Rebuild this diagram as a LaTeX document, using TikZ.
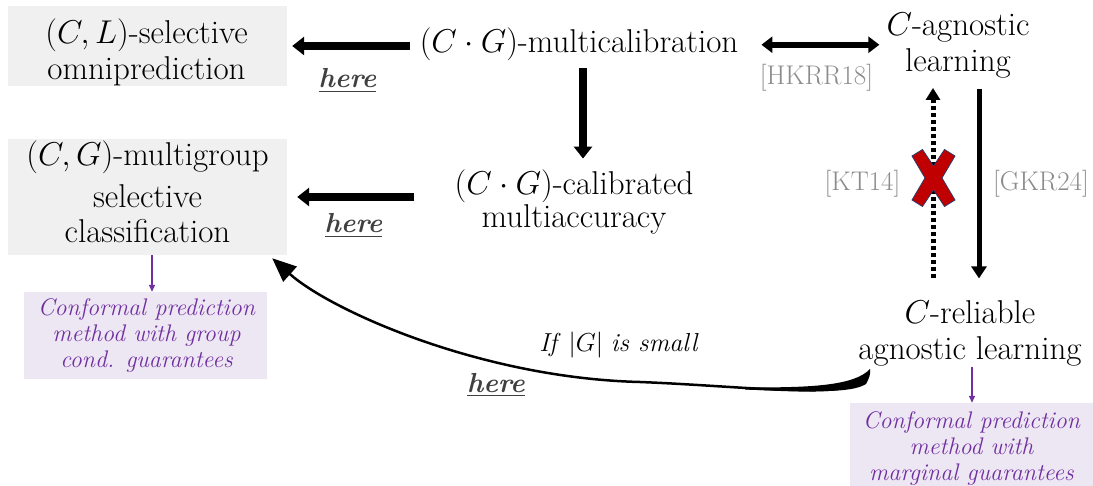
\RequirePackage{fix-cm}
\documentclass[tikz,border=0pt]{standalone}
\usepackage{fontspec}
\usetikzlibrary{arrows.meta}
\definecolor{boxgray}{HTML}{F0F0F0}
\definecolor{boxlilac}{HTML}{EDE6F3}
\definecolor{violet}{HTML}{7030A0}
\definecolor{citegray}{HTML}{8C8C8C}
\definecolor{heregray}{HTML}{404040}
\definecolor{xred}{HTML}{C00000}
\definecolor{xedge}{HTML}{2E3B66}
% underline with a heavier rule
\newcommand\thickul[1]{\vtop{\hbox{#1}\kern2.5pt\hrule height 1.6pt}}
\begin{document}
\begin{tikzpicture}[x=1pt,y=-1pt,
  txt/.style={font=\fontsize{33}{36.5}\selectfont, align=center, inner sep=0pt, anchor=base},
  conftxt/.style={font=\fontsize{24}{26}\selectfont\itshape, text=violet, align=center, inner sep=0pt, anchor=base},
  cite/.style={font=\fontsize{27}{30}\selectfont, text=citegray, inner sep=0pt, anchor=base},
  herelbl/.style={font=\fontsize{27.5}{30}\selectfont\bfseries\itshape, text=heregray, inner sep=0pt, anchor=base},
  graypanel/.style={fill=boxgray, inner sep=0pt},
  lilacpanel/.style={fill=boxlilac, inner sep=0pt},
  fat/.style={line width=7.5pt, -{Triangle[length=12pt,width=18pt]}},
  fatboth/.style={line width=6pt, {Triangle[length=11pt,width=16pt]}-{Triangle[length=11pt,width=16pt]}},
  slim/.style={line width=5pt, -{Triangle[length=12pt,width=15pt]}},
  dotarrow/.style={line width=5pt, dash pattern=on 4pt off 3pt, -{Triangle[length=12pt,width=14pt]}},
  thin/.style={violet, line width=1.5pt, -{Triangle[length=7pt,width=6pt]}}
]
\useasboundingbox (0,0) rectangle (1093,486);

% panels
\node[graypanel, minimum width=279pt, minimum height=80pt] (omnibox) at (147.5,46) {};
\node[graypanel, minimum width=279pt, minimum height=116pt] (mscbox) at (147.5,197) {};
\node[lilacpanel, minimum width=243pt, minimum height=87pt] (conf1box) at (145.5,335.5) {};
\node[lilacpanel, minimum width=243pt, minimum height=84pt] (conf2box) at (971.5,445) {};

% statements
\node[txt] (omni) at (146.5,80) {$(C,L)$-selective\\omniprediction};
\node[txt] (mcal) at (579,53) {$(C\cdot G)$-multicalibration};
\node[txt] (cma) at (574,228) {$(C\cdot G)$-calibrated\\[-3pt]multiaccuracy};
\node[txt] (msc) at (147.5,243) {$(C,G)$-multigroup\\[6pt]selective\\[-1.5pt]classification};
\node[txt] (agn) at (958,72) {$C$-agnostic\\learning};
\node[txt] (rel) at (970,360) {$C$-reliable\\agnostic learning};
\node[conftxt] (conf1) at (146.5,368) {Conformal prediction\\method with group\\cond. guarantees};
\node[conftxt] (conf2) at (971.5,480) {Conformal prediction\\method with\\marginal guarantees};

% references and notes
\node[cite] (hkrr) at (816.5,85) {[HKRR18]};
\node[cite] (kt) at (862.5,190.7) {[KT14]};
\node[cite] (gkr) at (1041,190.7) {[GKR24]};
\node[herelbl] (here1) at (347.5,88) {\thickul{here}};
\node[herelbl] (here2) at (353.5,233) {\thickul{here}};
\node[herelbl] (here3) at (496,392) {\thickul{here}};
\node[font=\fontsize{26}{30}\selectfont, inner sep=0pt, anchor=base] (small) at (619,352) {\textit{If} $|G|$ \textit{is small}};

% implications
\draw[fat, shorten <=10pt, shorten >=5pt] (mcal.west |- omnibox.east) -- (omnibox.east);
\draw[fat, shorten <=40pt, shorten >=10pt] (cma.west |- mscbox.east) -- (mscbox.east);
\coordinate (dtop) at ([xshift=4pt]mcal.south);
\draw[fat, shorten <=7pt, shorten >=11pt] (dtop) -- (dtop |- cma.north);
\draw[fatboth, shorten <=23pt, shorten >=7pt] (mcal.east) -- (mcal.east -| agn.west);

% reliable vs agnostic learning
\coordinate (upfoot) at ([xshift=-37pt]rel.north);
\coordinate (downtop) at ([xshift=21pt]agn.south);
\draw[slim, shorten <=10pt, shorten >=22pt] (downtop) -- (downtop |- rel.north);
\draw[dotarrow, shorten <=22pt, shorten >=9pt] (upfoot) -- (upfoot |- agn.south);
\begin{scope}[shift={(933.5,178)}]
  \filldraw[fill=xred, draw=xedge, line width=0.8pt]
    (-21.5,-22) -- (-11,-28.5) -- (0,-12) -- (11,-28.5) -- (21.5,-22) -- (8.5,0) --
    (21.5,22) -- (11,28.5) -- (0,12) -- (-11,28.5) -- (-21.5,22) -- (-8.5,0) -- cycle;
\end{scope}

% conformal prediction consequences
\draw[thin] ([xshift=4.5pt]mscbox.south) -- ([xshift=6.5pt]conf1box.north);
\draw[thin] ([xshift=2pt]rel.south) -- ([xshift=0.5pt]conf2box.north);

% curved implication with a tapered tail
\coordinate (tail) at (858,383);
\coordinate (tip) at ([xshift=-15pt,yshift=-3pt]mscbox.south east);
\fill (870,369) .. controls (855,385) and (815,388) .. (745,387.3) -- (745,389.6)
  .. controls (815,392) and (852,393) .. (866,384)
  .. controls (869,379) and (871,373) .. (870,369) -- cycle;
\draw[line width=2.5pt, -{Triangle[length=24pt,width=20pt]}]
  (tail) .. controls (835,398) and (740,386) .. (640,382)
  .. controls (480,378) and (330,310) .. (tip);
\end{tikzpicture}
\end{document}
